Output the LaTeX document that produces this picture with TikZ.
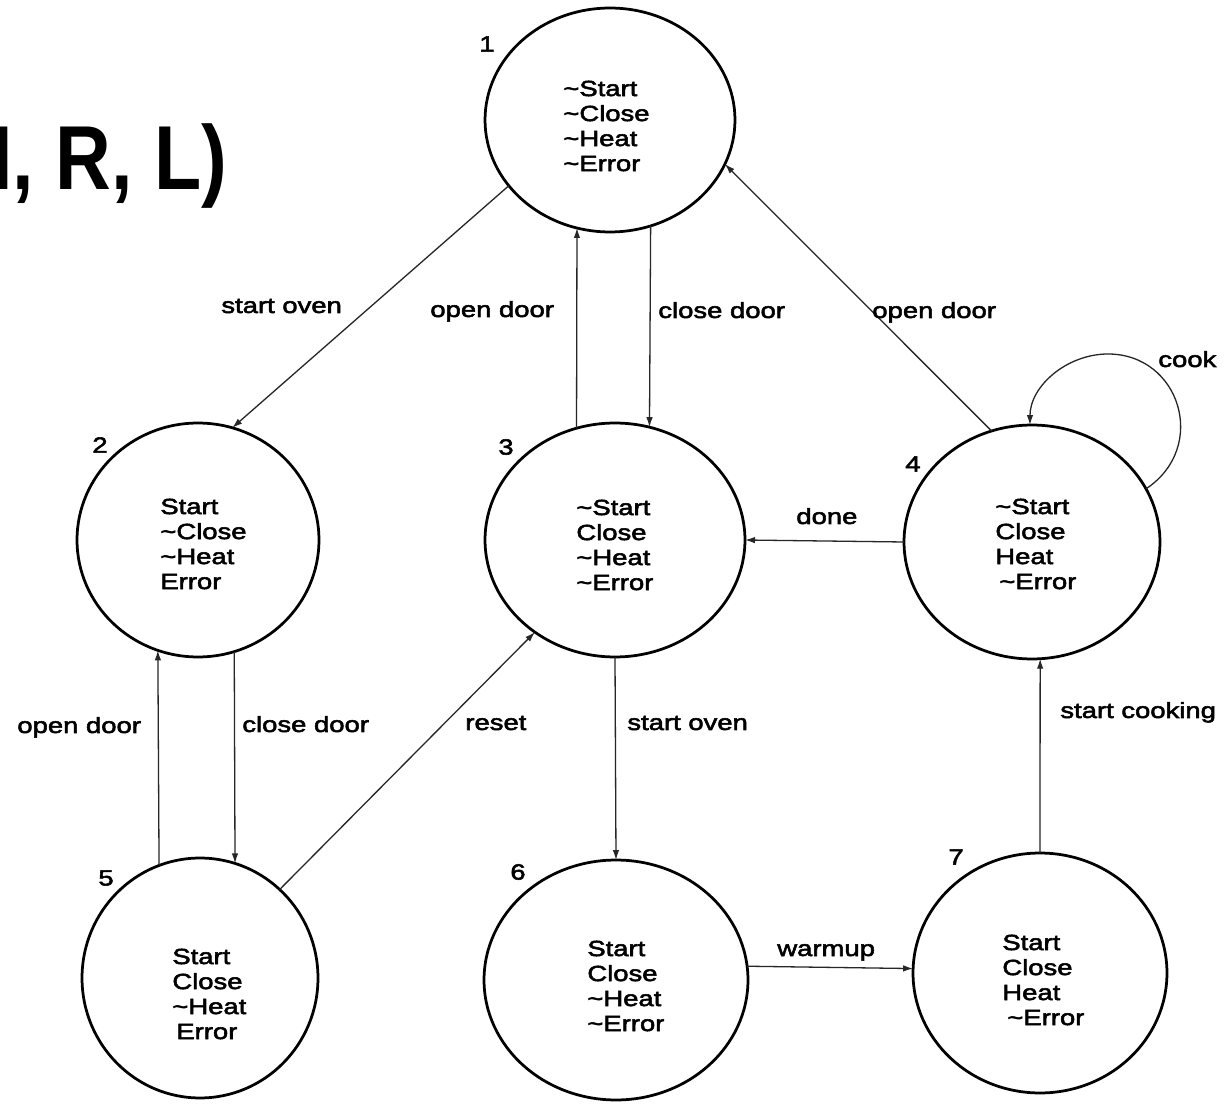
\documentclass[tikz,border=0pt]{standalone}
\usepackage{fontspec}
\setmainfont{Liberation Sans}
\newfontfamily\labfont[FakeStretch=1.25,FakeBold=2.5]{Liberation Sans}
\newfontfamily\headfont[FakeStretch=0.85]{Liberation Sans}
\newcommand{\statefont}{\labfont\fontsize{12.5pt}{14.23pt}\selectfont}
\usetikzlibrary{shapes.geometric,arrows.meta}

\begin{document}
\begin{tikzpicture}[x=0.02cm,y=-0.02cm,
  state/.style={ellipse, draw=black, line width=0.055cm, inner sep=0pt, outer sep=0pt},
  body/.style={font=\statefont, align=left, anchor=west, inner sep=0pt},
  tag/.style={font=\statefont, inner sep=0pt},
  lbl/.style={font=\statefont, anchor=base west, inner sep=0pt},
  edge/.style={draw=black!85, line width=0.026cm, -{Latex[length=0.2cm,width=0.13cm]}},
]
\fill[white] (0,0) rectangle (1228,1104);
\useasboundingbox (0,0) rectangle (1228,1104);
\clip (0,0) rectangle (1228,1104);

% heading fragment
\node[anchor=base west, inner sep=0pt,
      font=\headfont\bfseries\fontsize{51.7pt}{60pt}\selectfont] (head) at (-9,190) {I, R, L)};

% states
\node[state, minimum width=5.00cm, minimum height=4.48cm] (s1) at (610,120) {};
\node[state, minimum width=4.84cm, minimum height=4.68cm] (s2) at (198,540) {};
\node[state, minimum width=5.20cm, minimum height=4.68cm] (s3) at (615,540) {};
\node[state, minimum width=5.12cm, minimum height=4.68cm] (s4) at (1032,542) {};
\node[state, minimum width=4.72cm, minimum height=4.80cm] (s5) at (200,978) {};
\node[state, minimum width=5.28cm, minimum height=4.80cm] (s6) at (616,980) {};
\node[state, minimum width=5.08cm, minimum height=4.80cm] (s7) at (1040,973) {};

% state contents
\node[body] (t1) at (563,126) {\textasciitilde Start\\\textasciitilde Close\\\textasciitilde Heat\\\textasciitilde Error};
\node[body] (t2) at (160,544) {Start\\\textasciitilde Close\\\textasciitilde Heat\\Error};
\node[body] (t3) at (576,545) {\textasciitilde Start\\Close\\\textasciitilde Heat\\\textasciitilde Error};
\node[body] (t4) at (995,544) {\textasciitilde Start\\Close\\Heat\\\hspace*{0.08cm}\textasciitilde Error};
\node[body] (t5) at (172,994) {Start\\Close\\\textasciitilde Heat\\\hspace*{0.08cm}Error};
\node[body] (t6) at (587,986) {Start\\Close\\\textasciitilde Heat\\\textasciitilde Error};
\node[body] (t7) at (1002,980) {Start\\Close\\Heat\\\hspace*{0.1cm}\textasciitilde Error};

% state numbers
\node[tag] (n1) at (487,44) {1};
\node[tag] (n2) at (100,445) {2};
\node[tag] (n3) at (506,447) {3};
\node[tag] (n4) at (913,464) {4};
\node[tag] (n5) at (106,878) {5};
\node[tag] (n6) at (518,872) {6};
\node[tag] (n7) at (956,857) {7};

% transitions
\draw[edge] (s1.213) -- (s2.73);
\draw[edge] (s3.109) -- (s1.253);
\draw[edge] (s1.291) -- (s3.73);
\draw[edge] (s4.110) -- (s1.339);
\coordinate (looptop) at (1108,354);
\draw[edge] (s4.25) .. controls (1209,447) and (1180,354) .. (looptop)
                    .. controls (1067,354) and (1030,386) .. (s4.91);
\draw[edge] (s4.west) -- (s3.east);
\draw[edge] (s5.110) -- (s2.250);
\draw[edge] (s2.288) -- (s5.73);
\draw[edge] (s5.48) -- (s3.229);
\draw[edge] (s3.south) -- (s6.north);
\draw[edge] (s6.6) -- (s7.178);
\draw[edge] (s7.north) -- (s4.274);

% transition labels
\node[lbl] (l1) at (221,313) {start oven};
\node[lbl] (l2) at (430,317) {open door};
\node[lbl] (l3) at (658,318) {close door};
\node[lbl] (l4) at (872,318) {open door};
\node[lbl] (l5) at (1158,367) {cook};
\node[lbl] (l6) at (796,524) {done};
\node[lbl] (l7) at (17,733) {open door};
\node[lbl] (l8) at (242,732) {close door};
\node[lbl] (l9) at (465,730) {reset};
\node[lbl] (l10) at (627,730) {start oven};
\node[lbl] (l11) at (1060,718) {start cooking};
\node[lbl] (l12) at (777,956) {warmup};
\end{tikzpicture}
\end{document}
